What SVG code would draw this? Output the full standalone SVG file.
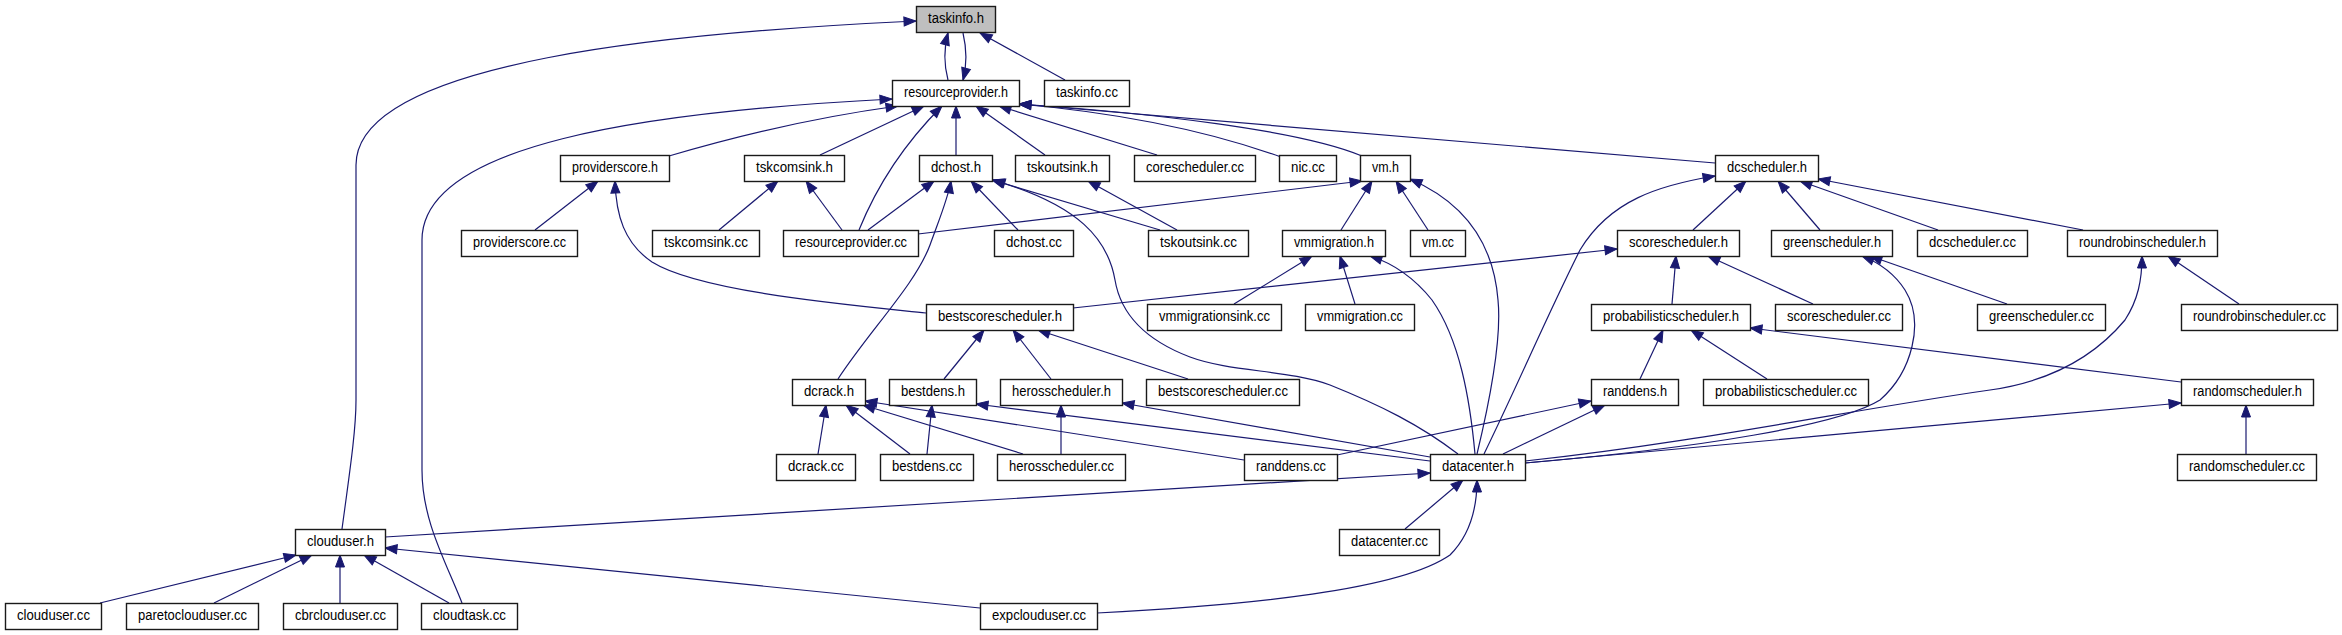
<svg xmlns="http://www.w3.org/2000/svg" width="2342" height="635" viewBox="0 0 2342 635">
<style>
.n rect{fill:#fff;stroke:#1a1a1a;stroke-width:1.4}
.n text{font-family:"Liberation Sans",Arial,sans-serif;font-size:14px;text-anchor:middle;fill:#000}
.e path{fill:none;stroke:#191970;stroke-width:1.2;marker-end:url(#a)}
</style>
<defs>
<marker id="a" markerWidth="13" markerHeight="10" refX="12" refY="4.5" orient="auto" markerUnits="userSpaceOnUse" overflow="visible">
<path d="M0,0 L12,4.5 L0,9 z" fill="#191970" stroke="#191970" stroke-width="1"/>
</marker>
</defs>
<rect width="2342" height="635" fill="#fff"/>
<g id="edges" class="e">
<path d="M948,80 C944,65 944,48 948,33"/>
<path d="M963,33 C967,50 967,65 963,80"/>
<path d="M1065,80 L980,33"/>
<path d="M342,529 C350,470 356,430 356,400 L356,165 C356,60 680,32 916,21"/>
<path d="M462,603 C445,560 422,520 422,470 L422,240 C422,145 640,112 892,99"/>
<path d="M669,156 C740,135 810,118 898,106"/>
<path d="M820,155 L924,106"/>
<path d="M859,230 C876,188 902,146 942,106"/>
<path d="M956,155 L956,106"/>
<path d="M1045,155 L976,106"/>
<path d="M1157,155 L999,106"/>
<path d="M1281,157 C1200,128 1110,112 1019,104"/>
<path d="M1362,156 C1300,130 1150,113 1019,104"/>
<path d="M1715,163 L1019,104"/>
<path d="M535,230 L598,181"/>
<path d="M926,313 C850,305 700,292 652,262 C624,243 616,215 615,181"/>
<path d="M719,230 L778,181"/>
<path d="M842,230 L806,181"/>
<path d="M868,230 L934,181"/>
<path d="M918,234 L1362,181"/>
<path d="M838,379 C870,330 915,285 930,245 C942,212 948,198 951,181"/>
<path d="M1018,230 L971,181"/>
<path d="M1160,230 L992,180"/>
<path d="M1458,454 C1420,425 1380,405 1330,385 C1290,370 1230,372 1190,357 C1140,338 1120,310 1115,280 C1108,240 1080,205 993,180"/>
<path d="M1177,230 L1088,181"/>
<path d="M1341,230 L1372,181"/>
<path d="M1428,230 L1396,181"/>
<path d="M1477,454 C1490,400 1502,340 1498,300 C1494,250 1470,205 1410,179"/>
<path d="M1234,304 L1312,256"/>
<path d="M1355,304 L1340,256"/>
<path d="M1475,454 C1470,400 1460,340 1432,300 C1412,275 1392,263 1370,256"/>
<path d="M1484,454 C1520,380 1545,320 1580,250 C1610,200 1660,185 1715,176"/>
<path d="M1693,230 L1746,181"/>
<path d="M1820,230 L1778,181"/>
<path d="M1938,230 L1800,181"/>
<path d="M2083,230 L1818,179"/>
<path d="M1073,308 L1617,249"/>
<path d="M1672,304 L1676,256"/>
<path d="M1813,304 L1708,256"/>
<path d="M1525,463 C1700,448 1840,425 1880,400 C1912,372 1925,322 1905,290 C1894,273 1880,263 1862,256"/>
<path d="M2007,304 L1870,256"/>
<path d="M1525,461 C1700,442 1850,410 1990,390 C2060,380 2100,350 2125,320 C2138,300 2142,280 2142,256"/>
<path d="M2239,304 L2168,256"/>
<path d="M944,379 L984,330"/>
<path d="M1051,379 L1013,330"/>
<path d="M1188,379 L1038,330"/>
<path d="M1640,379 L1663,330"/>
<path d="M1767,379 L1691,330"/>
<path d="M2181,382 L1750,328"/>
<path d="M818,454 L826,405"/>
<path d="M910,454 L846,405"/>
<path d="M1023,454 L863,405"/>
<path d="M1244,460 L865,401"/>
<path d="M1430,461 L976,404"/>
<path d="M927,454 L932,405"/>
<path d="M1430,457 L1122,403"/>
<path d="M1061,454 L1061,405"/>
<path d="M1503,454 L1605,405"/>
<path d="M1337,455 L1591,401"/>
<path d="M1525,463 C1750,442 1950,424 2181,403"/>
<path d="M2246,454 L2246,405"/>
<path d="M385,537 L1430,473"/>
<path d="M1405,529 L1463,480"/>
<path d="M1097,613 C1250,605 1400,590 1450,555 C1470,535 1477,510 1477,480"/>
<path d="M100,603 L296,555"/>
<path d="M214,603 L312,555"/>
<path d="M340,603 L340,555"/>
<path d="M449,603 L364,555"/>
<path d="M980,608 L385,548"/>
</g>
<g id="n_taskinfo_h" class="n"><rect x="916.5" y="6.5" width="79" height="26" style="fill:#bfbfbf"/><text x="956" y="23" textLength="56" lengthAdjust="spacingAndGlyphs">taskinfo.h</text></g>
<g id="n_resourceprovider_h" class="n"><rect x="892.5" y="80.5" width="127" height="26"/><text x="956" y="97" textLength="104" lengthAdjust="spacingAndGlyphs">resourceprovider.h</text></g>
<g id="n_taskinfo_cc" class="n"><rect x="1044.5" y="80.5" width="85" height="26"/><text x="1087" y="97" textLength="62" lengthAdjust="spacingAndGlyphs">taskinfo.cc</text></g>
<g id="n_providerscore_h" class="n"><rect x="560.5" y="155.5" width="109" height="26"/><text x="615" y="172" textLength="86" lengthAdjust="spacingAndGlyphs">providerscore.h</text></g>
<g id="n_tskcomsink_h" class="n"><rect x="744.5" y="155.5" width="100" height="26"/><text x="794.5" y="172" textLength="77" lengthAdjust="spacingAndGlyphs">tskcomsink.h</text></g>
<g id="n_dchost_h" class="n"><rect x="919.5" y="155.5" width="73" height="26"/><text x="956" y="172" textLength="50" lengthAdjust="spacingAndGlyphs">dchost.h</text></g>
<g id="n_tskoutsink_h" class="n"><rect x="1015.5" y="155.5" width="94" height="26"/><text x="1062.5" y="172" textLength="71" lengthAdjust="spacingAndGlyphs">tskoutsink.h</text></g>
<g id="n_corescheduler_cc" class="n"><rect x="1134.5" y="155.5" width="121" height="26"/><text x="1195" y="172" textLength="98" lengthAdjust="spacingAndGlyphs">corescheduler.cc</text></g>
<g id="n_nic_cc" class="n"><rect x="1279.5" y="155.5" width="57" height="26"/><text x="1308" y="172" textLength="34" lengthAdjust="spacingAndGlyphs">nic.cc</text></g>
<g id="n_vm_h" class="n"><rect x="1360.5" y="155.5" width="50" height="26"/><text x="1385.5" y="172" textLength="27" lengthAdjust="spacingAndGlyphs">vm.h</text></g>
<g id="n_dcscheduler_h" class="n"><rect x="1715.5" y="155.5" width="103" height="26"/><text x="1767" y="172" textLength="80" lengthAdjust="spacingAndGlyphs">dcscheduler.h</text></g>
<g id="n_providerscore_cc" class="n"><rect x="461.5" y="230.5" width="116" height="26"/><text x="519.5" y="247" textLength="93" lengthAdjust="spacingAndGlyphs">providerscore.cc</text></g>
<g id="n_tskcomsink_cc" class="n"><rect x="652.5" y="230.5" width="107" height="26"/><text x="706" y="247" textLength="84" lengthAdjust="spacingAndGlyphs">tskcomsink.cc</text></g>
<g id="n_resourceprovider_cc" class="n"><rect x="783.5" y="230.5" width="135" height="26"/><text x="851" y="247" textLength="112" lengthAdjust="spacingAndGlyphs">resourceprovider.cc</text></g>
<g id="n_dchost_cc" class="n"><rect x="994.5" y="230.5" width="79" height="26"/><text x="1034" y="247" textLength="56" lengthAdjust="spacingAndGlyphs">dchost.cc</text></g>
<g id="n_tskoutsink_cc" class="n"><rect x="1148.5" y="230.5" width="100" height="26"/><text x="1198.5" y="247" textLength="77" lengthAdjust="spacingAndGlyphs">tskoutsink.cc</text></g>
<g id="n_vmmigration_h" class="n"><rect x="1282.5" y="230.5" width="103" height="26"/><text x="1334" y="247" textLength="80" lengthAdjust="spacingAndGlyphs">vmmigration.h</text></g>
<g id="n_vm_cc" class="n"><rect x="1410.5" y="230.5" width="55" height="26"/><text x="1438" y="247" textLength="32" lengthAdjust="spacingAndGlyphs">vm.cc</text></g>
<g id="n_scorescheduler_h" class="n"><rect x="1617.5" y="230.5" width="122" height="26"/><text x="1678.5" y="247" textLength="99" lengthAdjust="spacingAndGlyphs">scorescheduler.h</text></g>
<g id="n_greenscheduler_h" class="n"><rect x="1771.5" y="230.5" width="121" height="26"/><text x="1832" y="247" textLength="98" lengthAdjust="spacingAndGlyphs">greenscheduler.h</text></g>
<g id="n_dcscheduler_cc" class="n"><rect x="1917.5" y="230.5" width="110" height="26"/><text x="1972.5" y="247" textLength="87" lengthAdjust="spacingAndGlyphs">dcscheduler.cc</text></g>
<g id="n_roundrobinscheduler_h" class="n"><rect x="2067.5" y="230.5" width="150" height="26"/><text x="2142.5" y="247" textLength="127" lengthAdjust="spacingAndGlyphs">roundrobinscheduler.h</text></g>
<g id="n_bestscorescheduler_h" class="n"><rect x="926.5" y="304.5" width="147" height="26"/><text x="1000" y="321" textLength="124" lengthAdjust="spacingAndGlyphs">bestscorescheduler.h</text></g>
<g id="n_vmmigrationsink_cc" class="n"><rect x="1147.5" y="304.5" width="134" height="26"/><text x="1214.5" y="321" textLength="111" lengthAdjust="spacingAndGlyphs">vmmigrationsink.cc</text></g>
<g id="n_vmmigration_cc" class="n"><rect x="1305.5" y="304.5" width="109" height="26"/><text x="1360" y="321" textLength="86" lengthAdjust="spacingAndGlyphs">vmmigration.cc</text></g>
<g id="n_probabilisticscheduler_h" class="n"><rect x="1591.5" y="304.5" width="159" height="26"/><text x="1671" y="321" textLength="136" lengthAdjust="spacingAndGlyphs">probabilisticscheduler.h</text></g>
<g id="n_scorescheduler_cc" class="n"><rect x="1775.5" y="304.5" width="127" height="26"/><text x="1839" y="321" textLength="104" lengthAdjust="spacingAndGlyphs">scorescheduler.cc</text></g>
<g id="n_greenscheduler_cc" class="n"><rect x="1977.5" y="304.5" width="128" height="26"/><text x="2041.5" y="321" textLength="105" lengthAdjust="spacingAndGlyphs">greenscheduler.cc</text></g>
<g id="n_roundrobinscheduler_cc" class="n"><rect x="2181.5" y="304.5" width="156" height="26"/><text x="2259.5" y="321" textLength="133" lengthAdjust="spacingAndGlyphs">roundrobinscheduler.cc</text></g>
<g id="n_dcrack_h" class="n"><rect x="792.5" y="379.5" width="73" height="26"/><text x="829" y="396" textLength="50" lengthAdjust="spacingAndGlyphs">dcrack.h</text></g>
<g id="n_bestdens_h" class="n"><rect x="889.5" y="379.5" width="87" height="26"/><text x="933" y="396" textLength="64" lengthAdjust="spacingAndGlyphs">bestdens.h</text></g>
<g id="n_herosscheduler_h" class="n"><rect x="1000.5" y="379.5" width="122" height="26"/><text x="1061.5" y="396" textLength="99" lengthAdjust="spacingAndGlyphs">herosscheduler.h</text></g>
<g id="n_bestscorescheduler_cc" class="n"><rect x="1146.5" y="379.5" width="153" height="26"/><text x="1223" y="396" textLength="130" lengthAdjust="spacingAndGlyphs">bestscorescheduler.cc</text></g>
<g id="n_randdens_h" class="n"><rect x="1591.5" y="379.5" width="87" height="26"/><text x="1635" y="396" textLength="64" lengthAdjust="spacingAndGlyphs">randdens.h</text></g>
<g id="n_probabilisticscheduler_cc" class="n"><rect x="1703.5" y="379.5" width="165" height="26"/><text x="1786" y="396" textLength="142" lengthAdjust="spacingAndGlyphs">probabilisticscheduler.cc</text></g>
<g id="n_randomscheduler_h" class="n"><rect x="2181.5" y="379.5" width="132" height="26"/><text x="2247.5" y="396" textLength="109" lengthAdjust="spacingAndGlyphs">randomscheduler.h</text></g>
<g id="n_dcrack_cc" class="n"><rect x="776.5" y="454.5" width="79" height="26"/><text x="816" y="471" textLength="56" lengthAdjust="spacingAndGlyphs">dcrack.cc</text></g>
<g id="n_bestdens_cc" class="n"><rect x="880.5" y="454.5" width="93" height="26"/><text x="927" y="471" textLength="70" lengthAdjust="spacingAndGlyphs">bestdens.cc</text></g>
<g id="n_herosscheduler_cc" class="n"><rect x="997.5" y="454.5" width="128" height="26"/><text x="1061.5" y="471" textLength="105" lengthAdjust="spacingAndGlyphs">herosscheduler.cc</text></g>
<g id="n_randdens_cc" class="n"><rect x="1244.5" y="454.5" width="93" height="26"/><text x="1291" y="471" textLength="70" lengthAdjust="spacingAndGlyphs">randdens.cc</text></g>
<g id="n_datacenter_h" class="n"><rect x="1430.5" y="454.5" width="95" height="26"/><text x="1478" y="471" textLength="72" lengthAdjust="spacingAndGlyphs">datacenter.h</text></g>
<g id="n_randomscheduler_cc" class="n"><rect x="2177.5" y="454.5" width="139" height="26"/><text x="2247" y="471" textLength="116" lengthAdjust="spacingAndGlyphs">randomscheduler.cc</text></g>
<g id="n_clouduser_h" class="n"><rect x="295.5" y="529.5" width="90" height="26"/><text x="340.5" y="546" textLength="67" lengthAdjust="spacingAndGlyphs">clouduser.h</text></g>
<g id="n_datacenter_cc" class="n"><rect x="1339.5" y="529.5" width="100" height="26"/><text x="1389.5" y="546" textLength="77" lengthAdjust="spacingAndGlyphs">datacenter.cc</text></g>
<g id="n_clouduser_cc" class="n"><rect x="5.5" y="603.5" width="96" height="26"/><text x="53.5" y="620" textLength="73" lengthAdjust="spacingAndGlyphs">clouduser.cc</text></g>
<g id="n_paretoclouduser_cc" class="n"><rect x="126.5" y="603.5" width="132" height="26"/><text x="192.5" y="620" textLength="109" lengthAdjust="spacingAndGlyphs">paretoclouduser.cc</text></g>
<g id="n_cbrclouduser_cc" class="n"><rect x="283.5" y="603.5" width="114" height="26"/><text x="340.5" y="620" textLength="91" lengthAdjust="spacingAndGlyphs">cbrclouduser.cc</text></g>
<g id="n_cloudtask_cc" class="n"><rect x="421.5" y="603.5" width="96" height="26"/><text x="469.5" y="620" textLength="73" lengthAdjust="spacingAndGlyphs">cloudtask.cc</text></g>
<g id="n_expclouduser_cc" class="n"><rect x="980.5" y="603.5" width="117" height="26"/><text x="1039" y="620" textLength="94" lengthAdjust="spacingAndGlyphs">expclouduser.cc</text></g>
</svg>
